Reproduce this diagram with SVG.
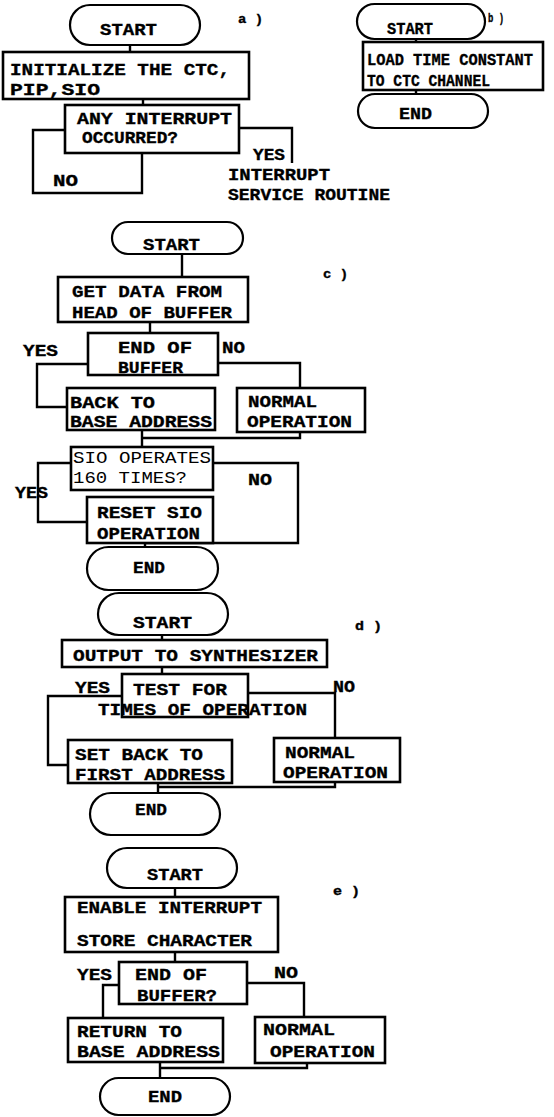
<svg xmlns="http://www.w3.org/2000/svg" width="554" height="1117" viewBox="0 0 554 1117">
<style>
.bx{fill:#fff;stroke:#000;stroke-width:2.6}
.tm{fill:#fff;stroke:#000;stroke-width:2.2}
.ln{fill:none;stroke:#000;stroke-width:2.4}
text{font-family:"Liberation Mono","DejaVu Sans Mono",monospace;font-weight:bold;font-size:17px;fill:#000;stroke:#000;stroke-width:0.35}
.lt{font-weight:normal;stroke-width:0}
.sm{font-size:13px}
</style>
<rect width="554" height="1117" fill="#fff"/>
<g id="connectors">
<path class="ln" d="M130,45V52 M143,99V105 M65,130H33V193H142V153 M239,128H292V163"/>
<path class="ln" d="M416,39V42 M416,90V94"/>
<path class="ln" d="M182,254V277 M150,322V333 M88,364H37V407H67 M218,363H300V388 M142,430V447 M142,438H300V432 M71,463H38V522H87 M213,463H298V543H145 M145,543V547"/>
<path class="ln" d="M162,635V640 M162,667V674 M122,696H48V765H68 M248,693H335V738 M158,783V793 M158,787H335V782"/>
<path class="ln" d="M175,888V897 M175,952V962 M119,985H103V1018 M247,983H304V1017 M160,1062V1078 M160,1068H307V1063"/>
</g>
<g id="a_start"><rect class="tm" x="70" y="5" width="130" height="40" rx="20"/><text x="100" y="35" textLength="57" lengthAdjust="spacingAndGlyphs">START</text></g>
<g id="a_label"><text class="sm" x="238" y="23" textLength="25" lengthAdjust="spacingAndGlyphs">a )</text></g>
<g id="a_init"><rect class="bx" x="3" y="52" width="246" height="47"/><text x="10" y="75" textLength="220" lengthAdjust="spacingAndGlyphs">INITIALIZE THE CTC,</text><text x="10" y="95" textLength="90" lengthAdjust="spacingAndGlyphs">PIP,SIO</text></g>
<g id="a_any"><rect class="bx" x="65" y="105" width="174" height="48"/><text x="77" y="124" textLength="155" lengthAdjust="spacingAndGlyphs">ANY INTERRUPT</text><text x="82" y="143" textLength="96" lengthAdjust="spacingAndGlyphs">OCCURRED?</text></g>
<g id="a_no"><text x="53" y="186" textLength="25" lengthAdjust="spacingAndGlyphs">NO</text></g>
<g id="a_yes"><text x="253" y="160" textLength="32" lengthAdjust="spacingAndGlyphs">YES</text></g>
<g id="a_isr"><text x="228" y="180" textLength="102" lengthAdjust="spacingAndGlyphs">INTERRUPT</text><text x="228" y="200" textLength="162" lengthAdjust="spacingAndGlyphs">SERVICE ROUTINE</text></g>

<g id="b_start"><rect class="tm" x="357" y="4" width="128" height="35" rx="17.5"/><text x="387" y="34" textLength="46" lengthAdjust="spacingAndGlyphs">START</text></g>
<g id="b_label"><text class="sm" x="488" y="22" textLength="16" lengthAdjust="spacingAndGlyphs">b )</text></g>
<g id="b_load"><rect class="bx" x="363" y="42" width="180" height="48"/><text x="367" y="65" textLength="166" lengthAdjust="spacingAndGlyphs">LOAD TIME CONSTANT</text><text x="367" y="86" textLength="123" lengthAdjust="spacingAndGlyphs">TO CTC CHANNEL</text></g>
<g id="b_end"><rect class="tm" x="358" y="94" width="130" height="34" rx="17"/><text x="399" y="119" textLength="33" lengthAdjust="spacingAndGlyphs">END</text></g>

<g id="c_start"><rect class="tm" x="112" y="222" width="131" height="32" rx="16"/><text x="143" y="250" textLength="57" lengthAdjust="spacingAndGlyphs">START</text></g>
<g id="c_label"><text class="sm" x="323" y="278" textLength="25" lengthAdjust="spacingAndGlyphs">c )</text></g>
<g id="c_get"><rect class="bx" x="58" y="277" width="190" height="45"/><text x="72" y="297" textLength="150" lengthAdjust="spacingAndGlyphs">GET DATA FROM</text><text x="72" y="318" textLength="160" lengthAdjust="spacingAndGlyphs">HEAD OF BUFFER</text></g>
<g id="c_endof"><rect class="bx" x="88" y="333" width="130" height="42"/><text x="118" y="353" textLength="74" lengthAdjust="spacingAndGlyphs">END OF</text><text x="118" y="373" textLength="65" lengthAdjust="spacingAndGlyphs">BUFFER</text></g>
<g id="c_yes1"><text x="23" y="356" textLength="35" lengthAdjust="spacingAndGlyphs">YES</text></g>
<g id="c_no1"><text x="222" y="353" textLength="23" lengthAdjust="spacingAndGlyphs">NO</text></g>
<g id="c_back"><rect class="bx" x="67" y="388" width="148" height="42"/><text x="70" y="408" textLength="85" lengthAdjust="spacingAndGlyphs">BACK TO</text><text x="70" y="427" textLength="142" lengthAdjust="spacingAndGlyphs">BASE ADDRESS</text></g>
<g id="c_normal"><rect class="bx" x="237" y="388" width="128" height="44"/><text x="248" y="407" textLength="69" lengthAdjust="spacingAndGlyphs">NORMAL</text><text x="247" y="427" textLength="105" lengthAdjust="spacingAndGlyphs">OPERATION</text></g>
<g id="c_sio"><rect class="bx" x="71" y="447" width="142" height="43"/><text class="lt" x="73" y="463" textLength="138" lengthAdjust="spacingAndGlyphs">SIO OPERATES</text><text class="lt" x="73" y="483" textLength="114" lengthAdjust="spacingAndGlyphs">160 TIMES?</text></g>
<g id="c_yes2"><text x="15" y="498" textLength="33" lengthAdjust="spacingAndGlyphs">YES</text></g>
<g id="c_no2"><text x="248" y="485" textLength="24" lengthAdjust="spacingAndGlyphs">NO</text></g>
<g id="c_reset"><rect class="bx" x="87" y="497" width="126" height="46"/><text x="97" y="518" textLength="105" lengthAdjust="spacingAndGlyphs">RESET SIO</text><text x="97" y="539" textLength="103" lengthAdjust="spacingAndGlyphs">OPERATION</text></g>
<g id="c_end"><rect class="tm" x="87" y="547" width="131" height="43" rx="21.5"/><text x="133" y="573" textLength="32" lengthAdjust="spacingAndGlyphs">END</text></g>

<g id="d_start"><rect class="tm" x="98" y="593" width="130" height="42" rx="21"/><text x="133" y="628" textLength="59" lengthAdjust="spacingAndGlyphs">START</text></g>
<g id="d_label"><text class="sm" x="355" y="630" textLength="27" lengthAdjust="spacingAndGlyphs">d )</text></g>
<g id="d_output"><rect class="bx" x="62" y="640" width="265" height="27"/><text x="73" y="661" textLength="245" lengthAdjust="spacingAndGlyphs">OUTPUT TO SYNTHESIZER</text></g>
<g id="d_test"><rect class="bx" x="122" y="674" width="126" height="43"/><text x="133" y="695" textLength="94" lengthAdjust="spacingAndGlyphs">TEST FOR</text><text x="98" y="715" textLength="209" lengthAdjust="spacingAndGlyphs">TIMES OF OPERATION</text></g>
<g id="d_yes"><text x="75" y="693" textLength="35" lengthAdjust="spacingAndGlyphs">YES</text></g>
<g id="d_no"><text x="333" y="692" textLength="22" lengthAdjust="spacingAndGlyphs">NO</text></g>
<g id="d_setback"><rect class="bx" x="68" y="740" width="164" height="43"/><text x="75" y="760" textLength="128" lengthAdjust="spacingAndGlyphs">SET BACK TO</text><text x="75" y="780" textLength="150" lengthAdjust="spacingAndGlyphs">FIRST ADDRESS</text></g>
<g id="d_normal"><rect class="bx" x="274" y="738" width="126" height="44"/><text x="285" y="758" textLength="70" lengthAdjust="spacingAndGlyphs">NORMAL</text><text x="283" y="778" textLength="105" lengthAdjust="spacingAndGlyphs">OPERATION</text></g>
<g id="d_end"><rect class="tm" x="90" y="793" width="130" height="42" rx="21"/><text x="135" y="815" textLength="32" lengthAdjust="spacingAndGlyphs">END</text></g>

<g id="e_start"><rect class="tm" x="107" y="848" width="130" height="40" rx="20"/><text x="147" y="880" textLength="56" lengthAdjust="spacingAndGlyphs">START</text></g>
<g id="e_label"><text class="sm" x="333" y="895" textLength="27" lengthAdjust="spacingAndGlyphs">e )</text></g>
<g id="e_enable"><rect class="bx" x="65" y="897" width="213" height="55"/><text x="77" y="913" textLength="185" lengthAdjust="spacingAndGlyphs">ENABLE INTERRUPT</text><text x="77" y="946" textLength="175" lengthAdjust="spacingAndGlyphs">STORE CHARACTER</text></g>
<g id="e_endof"><rect class="bx" x="119" y="962" width="128" height="42"/><text x="135" y="980" textLength="72" lengthAdjust="spacingAndGlyphs">END OF</text><text x="137" y="1001" textLength="80" lengthAdjust="spacingAndGlyphs">BUFFER?</text></g>
<g id="e_yes"><text x="77" y="980" textLength="35" lengthAdjust="spacingAndGlyphs">YES</text></g>
<g id="e_no"><text x="274" y="978" textLength="24" lengthAdjust="spacingAndGlyphs">NO</text></g>
<g id="e_return"><rect class="bx" x="68" y="1018" width="155" height="44"/><text x="77" y="1037" textLength="105" lengthAdjust="spacingAndGlyphs">RETURN TO</text><text x="77" y="1057" textLength="143" lengthAdjust="spacingAndGlyphs">BASE ADDRESS</text></g>
<g id="e_normal"><rect class="bx" x="255" y="1017" width="130" height="46"/><text x="263" y="1035" textLength="72" lengthAdjust="spacingAndGlyphs">NORMAL</text><text x="270" y="1057" textLength="105" lengthAdjust="spacingAndGlyphs">OPERATION</text></g>
<g id="e_end"><rect class="tm" x="100" y="1078" width="130" height="37" rx="18.5"/><text x="148" y="1102" textLength="34" lengthAdjust="spacingAndGlyphs">END</text></g>
</svg>
